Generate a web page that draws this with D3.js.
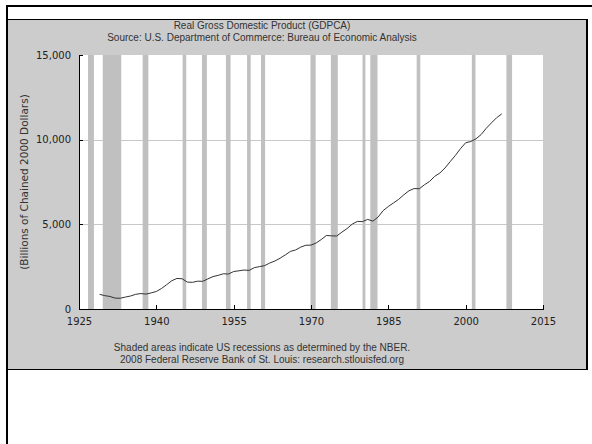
<!DOCTYPE html>
<html>
<head>
<meta charset="utf-8">
<script src="https://cdn.jsdelivr.net/npm/d3@7"></script>
<style>
  body { margin: 0; background: #fff; }
  svg { display: block; }
  .axis path, .axis line { stroke: #000; shape-rendering: crispEdges; }
  .axis text { font-family: "DejaVu Sans", sans-serif; font-size: 10px; fill: #222; }
  .lbl { font-family: "Liberation Sans", Arial, sans-serif; font-size: 10px; fill: #333; }
  .ylbl { font-family: "DejaVu Sans", sans-serif; font-size: 10.5px; fill: #333; }
</style>
</head>
<body>
<script>

// Annual real GDP, billions of chained 2000 dollars
var years = d3.range(1929, 2008);
var gdp = [
  865.2, 790.7, 739.9, 643.7, 635.5, 704.2, 766.9, 866.6, 911.1, 879.7,
  950.7, 1034.1, 1211.1, 1435.4, 1670.9, 1806.5, 1786.3, 1589.4, 1574.5, 1643.2,
  1634.6, 1777.3, 1915.0, 1988.3, 2079.5, 2065.4, 2212.8, 2255.8, 2301.1, 2279.2,
  2441.3, 2501.8, 2560.0, 2715.2, 2834.0, 2998.6, 3191.1, 3399.1, 3484.6, 3652.7,
  3765.4, 3771.9, 3898.6, 4105.0, 4341.5, 4319.6, 4311.2, 4540.9, 4750.5, 5015.0,
  5173.4, 5161.7, 5291.7, 5189.3, 5423.8, 5813.6, 6053.7, 6263.6, 6475.1, 6742.7,
  6981.4, 7112.5, 7100.5, 7336.6, 7532.7, 7835.5, 8031.7, 8328.9, 8703.5, 9066.9,
  9470.3, 9817.0, 9890.7, 10048.8, 10301.0, 10675.8, 10989.5, 11294.8, 11523.9
];

// NBER recessions (start, end) as decimal years
var recStart = [1926.75, 1929.6, 1937.35, 1945.1, 1948.85, 1953.5, 1957.6, 1960.3, 1969.9, 1973.85, 1980.0, 1981.5, 1990.5, 2001.2, 2007.9];
var recEnd   = [1927.9, 1933.2, 1938.45, 1945.8, 1949.8, 1954.4, 1958.3, 1961.1, 1970.9, 1975.2, 1980.55, 1982.9, 1991.2, 2001.9, 2009.0];

var xTicks = [1925, 1940, 1955, 1970, 1985, 2000, 2015];
var yTicks = [0, 5000, 10000, 15000];
var gridVals = [5000, 10000];

var titleLines = ["Real Gross Domestic Product (GDPCA)",
  "Source: U.S. Department of Commerce: Bureau of Economic Analysis"];
var footLines = ["Shaded areas indicate US recessions as determined by the NBER.",
  "2008 Federal Reserve Bank of St. Louis: research.stlouisfed.org"];
var yTitle = "(Billions of Chained 2000 Dollars)";

var W = 592, H = 444;
var plot = {left: 79, right: 543, top: 55, bottom: 309};
var cx = 262;

var svg = d3.select("body").append("svg")
  .attr("width", W)
  .attr("height", H);

// frame
svg.append("rect").attr("x", 8).attr("y", 19).attr("width", 579).attr("height", 351).attr("fill", "#cccccc");
svg.append("rect").attr("x", 6).attr("y", 5).attr("width", 586).attr("height", 2).attr("fill", "#000");
svg.append("rect").attr("x", 6).attr("y", 5).attr("width", 2).attr("height", 439).attr("fill", "#000");
svg.append("rect").attr("x", 6).attr("y", 19).attr("width", 582).attr("height", 1).attr("fill", "#000");
svg.append("rect").attr("x", 586).attr("y", 19).attr("width", 2).attr("height", 351).attr("fill", "#000");
svg.append("rect").attr("x", 6).attr("y", 369).attr("width", 582).attr("height", 1).attr("fill", "#000");

var x = d3.scaleLinear().domain([1925, 2015]).range([plot.left, plot.right]);
var y = d3.scaleLinear().domain([0, 15000]).range([plot.bottom, plot.top]);

svg.append("rect")
  .attr("x", plot.left).attr("y", plot.top)
  .attr("width", plot.right - plot.left).attr("height", plot.bottom - plot.top)
  .attr("fill", "#fff");

// gridlines
svg.selectAll(".grid").data(gridVals).enter().append("line")
  .attr("x1", plot.left).attr("x2", plot.right)
  .attr("y1", function(d) { return Math.round(y(d)) + 0.5; })
  .attr("y2", function(d) { return Math.round(y(d)) + 0.5; })
  .attr("stroke", "#c8c8c8");

// recession bands
svg.selectAll(".rec").data(recStart).enter().append("rect")
  .attr("x", function(d) { return x(d); })
  .attr("width", function(d, i) { return x(recEnd[i]) - x(d); })
  .attr("y", plot.top)
  .attr("height", plot.bottom - plot.top)
  .attr("fill", "#c0c0c0");

// line
var line = d3.line()
  .x(function(d, i) { return x(years[i]); })
  .y(function(d) { return y(d); });

svg.append("path")
  .datum(gdp)
  .attr("d", line)
  .attr("fill", "none")
  .attr("stroke", "#333")
  .attr("stroke-width", 1);

// axes
var xAxis = d3.axisBottom(x).tickValues(xTicks).tickFormat(d3.format("d"))
  .tickSizeInner(-4).tickSizeOuter(0).tickPadding(9);
var yAxis = d3.axisLeft(y).tickValues(yTicks).tickFormat(d3.format(","))
  .tickSizeInner(-4).tickSizeOuter(0).tickPadding(8);

svg.append("g").attr("class", "axis")
  .attr("transform", "translate(0," + plot.bottom + ")")
  .call(xAxis);
svg.append("g").attr("class", "axis")
  .attr("transform", "translate(" + plot.left + ",0)")
  .call(yAxis);

// texts
svg.selectAll(".title").data(titleLines).enter().append("text")
  .attr("class", "lbl")
  .attr("x", cx).attr("y", function(d, i) { return 29 + i * 12; })
  .attr("text-anchor", "middle")
  .text(function(d) { return d; });

svg.selectAll(".foot").data(footLines).enter().append("text")
  .attr("class", "lbl")
  .attr("x", cx).attr("y", function(d, i) { return 351 + i * 12; })
  .attr("text-anchor", "middle")
  .text(function(d) { return d; });

svg.append("text")
  .attr("class", "ylbl")
  .attr("transform", "translate(28," + ((plot.top + plot.bottom) / 2) + ") rotate(-90)")
  .attr("text-anchor", "middle")
  .text(yTitle);

</script>
</body>
</html>
